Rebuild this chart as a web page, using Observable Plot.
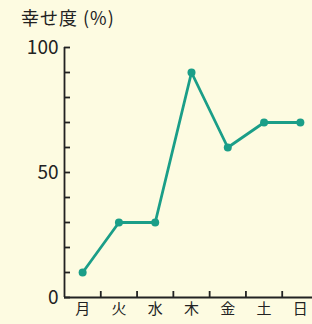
<!DOCTYPE html>
<html><head><meta charset="utf-8">
<script src="https://cdn.jsdelivr.net/npm/d3@7"></script>
<script src="https://cdn.jsdelivr.net/npm/@observablehq/plot@0.6"></script>
<style>
html,body{margin:0;padding:0;background:#fdfbe1;}
#wrap{position:relative;width:312px;height:324px;overflow:hidden;background:#fdfbe1;}
#title{position:absolute;left:21px;top:4px;font:18px "Noto Sans CJK JP",sans-serif;color:#222;letter-spacing:1px;z-index:2;}
svg{position:absolute;left:0;top:0;}
</style></head><body>
<div id="wrap"><div id="title">幸せ度 (%)</div></div>
<script>
const days = ["月","火","水","木","金","土","日"];
const happiness = [10, 30, 30, 90, 60, 70, 70];
const yTicks = [0,10,20,30,40,50,60,70,80,90,100];
const yLabels = [0,50,100];

const data = days.map((d,i)=>({i, day:d, v:happiness[i]}));
const xBounds = days.slice(1).map((d,i)=>i+0.5);
const ink = "#222";
const teal = "#1a9e88";
const xLen = 6 / 36.29;   // tick length in x units (≈6px)
const yLen = 6 / 2.5;     // tick length in y units (≈6px)

const chart = Plot.plot({
  width:312, height:324,
  marginTop:47, marginBottom:27, marginLeft:64, marginRight:0,
  style:{background:"transparent", fontFamily:"'Noto Sans CJK JP', sans-serif", color:ink},
  x:{domain:[-0.5,6.5], range:[64,318], label:null},
  y:{domain:[0,100], label:null},
  marks:[
    Plot.axisY({ticks:yLabels, tickSize:0, tickPadding:6, fontSize:19, fill:ink, label:null}),
    Plot.axisX({ticks:days.map((d,i)=>i), tickSize:0, tickPadding:6, tickFormat:i=>days[i], fontSize:15, fill:ink, label:null}),
    Plot.ruleY(yTicks, {y:d=>d, x1:()=>-0.5, x2:()=>-0.5+xLen, stroke:ink, strokeWidth:1.8}),
    Plot.ruleX(xBounds, {x:d=>d, y1:()=>0, y2:()=>yLen, stroke:ink, strokeWidth:1.8}),
    Plot.ruleX([-0.5], {stroke:ink, strokeWidth:1.8}),
    Plot.ruleY([0], {stroke:ink, strokeWidth:1.8}),
    Plot.line(data, {x:"i", y:"v", stroke:teal, strokeWidth:2.8}),
    Plot.dot(data, {x:"i", y:"v", fill:teal, r:4, symbol:"circle"})
  ]
});
document.getElementById("wrap").appendChild(chart);
</script>
</body></html>
